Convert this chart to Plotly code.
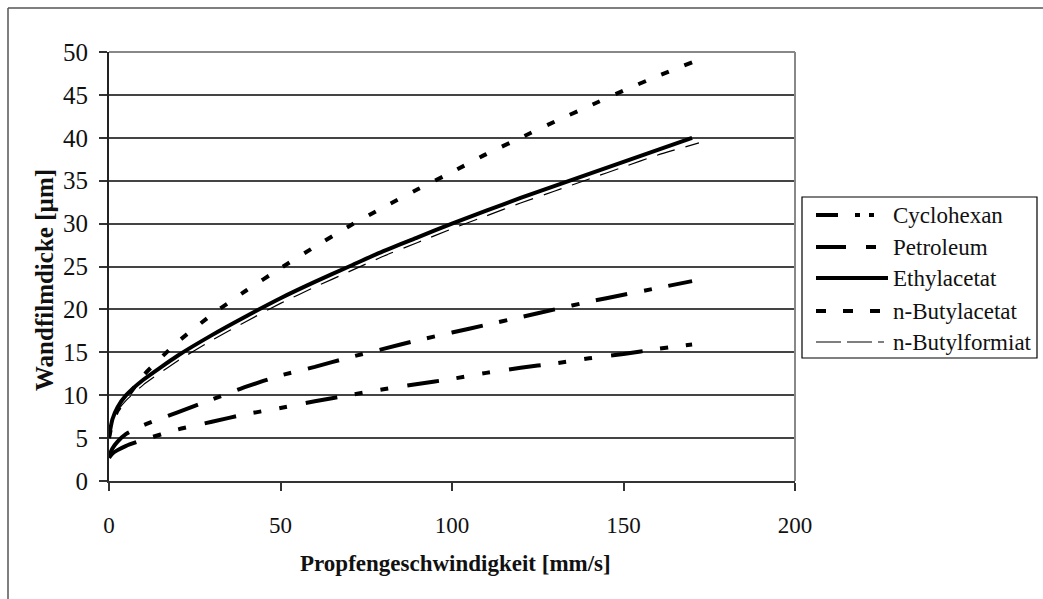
import plotly.graph_objects as go

# Propfengeschwindigkeit [mm/s]
x_main = [0, 1, 2.5, 5, 10, 20, 30, 40, 50, 60, 70, 80, 90, 100, 110, 120, 130, 140, 150, 160, 170]
x_formiat = [0, 1, 2.5, 5, 10, 20, 30, 40, 50, 60, 70, 80, 90, 100, 110, 120, 130, 140, 150, 160, 172]

# Wandfilmdicke [µm]
cyclohexan = [2.7, 3.2, 3.6, 4.1, 4.8, 6.0, 6.9, 7.8, 8.5, 9.3, 10.0, 10.7, 11.3, 11.9, 12.6, 13.2, 13.7, 14.3, 14.8, 15.4, 15.9]
petroleum = [2.9, 3.8, 4.6, 5.5, 6.5, 8.0, 9.5, 11.0, 12.3, 13.3, 14.4, 15.4, 16.4, 17.3, 18.2, 19.1, 20.0, 20.9, 21.7, 22.5, 23.3]
ethylacetat = [5.2, 7.2, 8.6, 10.0, 11.8, 14.6, 17.0, 19.2, 21.3, 23.2, 25.0, 26.8, 28.4, 30.0, 31.5, 33.0, 34.4, 35.8, 37.2, 38.6, 40.0]
butylacetat = [5.0, 6.8, 8.2, 9.6, 12.3, 16.2, 19.4, 22.2, 24.8, 27.3, 29.7, 31.9, 34.0, 36.0, 38.1, 40.0, 41.9, 43.7, 45.5, 47.2, 48.8]
butylformiat = [5.0, 6.9, 8.2, 9.4, 11.2, 14.0, 16.4, 18.6, 20.7, 22.6, 24.4, 26.2, 27.8, 29.4, 30.9, 32.4, 33.8, 35.2, 36.6, 38.0, 39.4]

x_ticks = [0, 50, 100, 150, 200]
y_ticks = [0, 5, 10, 15, 20, 25, 30, 35, 40, 45, 50]

SERIF = "Liberation Serif, Times New Roman, serif"

# name, x, y, line width, dash in plot, dash in legend key
series = [
    ("Cyclohexan", x_main, cyclohexan, 4, "32px,18px,8px,18px,8px,19px", "22px,17px,5px,9px,5px,14px"),
    ("Petroleum", x_main, petroleum, 4, "32px,17px,8px,17px", "30px,20px,10px,20px"),
    ("Ethylacetat", x_main, ethylacetat, 4, "solid", "solid"),
    ("n-Butylacetat", x_main, butylacetat, 4, "8px,17px", "10px,17px"),
    ("n-Butylformiat", x_formiat, butylformiat, 1.2, "19px,11px", "25px,6px,25px,6px,6px,6px"),
]

fig = go.Figure()
for name, xs, ys, w, dash, _ in series:
    fig.add_trace(go.Scatter(
        x=xs, y=ys, name=name, mode="lines",
        line=dict(color="black", width=w, dash=dash, shape="spline", smoothing=0.5),
        showlegend=False,
    ))

W, H = 1043, 599
L, R, T, B = 109, 795, 52, 481


def px(v):
    return (v - L) / (R - L)


def py(v):
    return (B - v) / (B - T)


shapes = []
annotations = []

# outer chart frame (left and top edges)
shapes.append(dict(type="line", xref="paper", yref="paper", x0=px(8), x1=px(8), y0=py(8), y1=py(620),
                   line=dict(color="#555555", width=1.5)))
shapes.append(dict(type="line", xref="paper", yref="paper", x0=px(8), x1=px(1060), y0=py(8), y1=py(8),
                   line=dict(color="#555555", width=1.5)))

# plot-area border on top and right
shapes.append(dict(type="line", xref="paper", yref="paper", x0=0, x1=1, y0=1, y1=1,
                   line=dict(color="#888888", width=2)))
shapes.append(dict(type="line", xref="paper", yref="paper", x0=1, x1=1, y0=0, y1=1,
                   line=dict(color="#888888", width=2)))

# legend box
lx0, lx1, ly0, ly1 = 802, 1037, 197, 358
shapes.append(dict(type="rect", xref="paper", yref="paper", x0=px(lx0), x1=px(lx1), y0=py(ly1), y1=py(ly0),
                   line=dict(color="black", width=1.2), fillcolor="white"))
row_y = [215, 247, 278, 311, 342]
for (name, _, _, w, _, ldash), ry in zip(series, row_y):
    shapes.append(dict(type="line", xref="paper", yref="paper", x0=px(816), x1=px(888), y0=py(ry), y1=py(ry),
                       line=dict(color="black", width=w if w > 2 else 1.2, dash=ldash)))
    annotations.append(dict(xref="paper", yref="paper", x=px(891), y=py(ry), text=name, showarrow=False,
                            xanchor="left", yanchor="middle", font=dict(family=SERIF, size=23, color="#111")))

# axis titles
annotations.append(dict(xref="paper", yref="paper", x=px(455), y=py(563), text="<b>Propfengeschwindigkeit [mm/s]</b>",
                        showarrow=False, xanchor="center", yanchor="middle",
                        font=dict(family=SERIF, size=23, color="#111")))
annotations.append(dict(xref="paper", yref="paper", x=px(44), y=py(280), text="<b>Wandfilmdicke [µm]</b>",
                        showarrow=False, xanchor="center", yanchor="middle", textangle=-90,
                        font=dict(family=SERIF, size=25, color="#111")))

fig.update_layout(
    width=W, height=H,
    margin=dict(l=L, r=W - R, t=T, b=H - B),
    paper_bgcolor="white", plot_bgcolor="white",
    shapes=shapes, annotations=annotations,
    showlegend=False,
    xaxis=dict(range=[0, 200], tickvals=x_ticks, ticktext=[str(v) for v in x_ticks],
               showgrid=False, zeroline=False, showline=True, linecolor="#333", linewidth=2,
               ticks="outside", ticklen=8, tickwidth=1.5, tickcolor="#333", ticklabelstandoff=14,
               tickfont=dict(family=SERIF, size=23, color="#111")),
    yaxis=dict(range=[0, 50], tickvals=y_ticks, ticktext=[str(v) for v in y_ticks],
               showgrid=True, gridcolor="#444444", gridwidth=1.5, zeroline=False,
               showline=True, linecolor="#222", linewidth=2,
               ticks="outside", ticklen=8, tickwidth=1.5, tickcolor="#333", ticklabelstandoff=6,
               tickfont=dict(family=SERIF, size=25, color="#111")),
)

fig.write_html("out.html")
